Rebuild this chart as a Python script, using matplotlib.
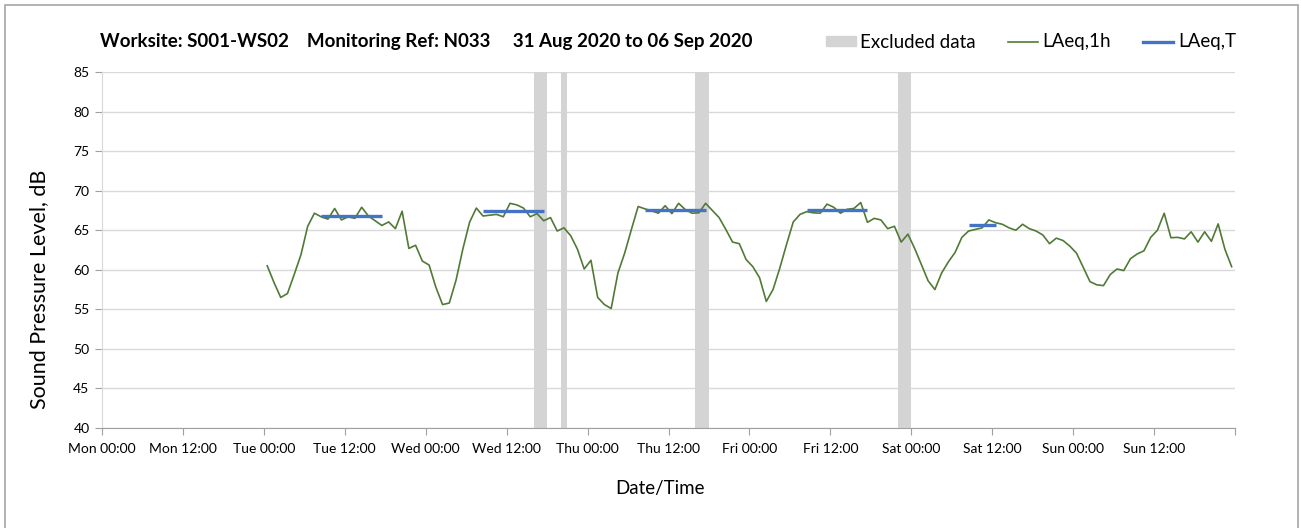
import matplotlib.pyplot as plt
import matplotlib.dates as mdates
import matplotlib.patches as mpatches
from matplotlib.lines import Line2D
import pandas as pd

plt.rcParams['font.family'] = ['Lato', 'DejaVu Sans']

# hourly LAeq,1h values, Tue 01 Sep 00:30 .. Sun 06 Sep 23:30
laeq_1h = [
    # Tue
    60.5, 58.4, 56.5, 57.0, 59.4, 61.9, 65.5, 67.15, 66.7, 66.4, 67.75, 66.3,
    66.7, 66.5, 67.9, 66.8, 66.2, 65.6, 66.05, 65.2, 67.4, 62.7, 63.1, 61.1,
    # Wed
    60.6, 57.8, 55.6, 55.8, 58.7, 62.6, 66.0, 67.8, 66.8, 66.9, 67.0, 66.7,
    68.4, 68.2, 67.8, 66.7, 67.1, 66.2, 66.6, 64.9, 65.3, 64.3, 62.6, 60.1,
    # Thu
    61.2, 56.5, 55.6, 55.1, 59.6, 62.1, 65.1, 68.0, 67.7, 67.45, 67.15, 68.1,
    67.1, 68.4, 67.6, 67.15, 67.2, 68.4, 67.5, 66.6, 65.1, 63.5, 63.3, 61.3,
    # Fri
    60.4, 59.0, 56.0, 57.5, 60.2, 63.2, 66.05, 67.0, 67.35, 67.2, 67.15, 68.3,
    67.9, 67.15, 67.65, 67.75, 68.5, 66.0, 66.5, 66.3, 65.2, 65.5, 63.5, 64.5,
    # Sat
    62.7, 60.65, 58.6, 57.5, 59.6, 61.0, 62.2, 64.1, 64.9, 65.1, 65.3, 66.3,
    65.95, 65.75, 65.3, 65.0, 65.75, 65.2, 64.9, 64.4, 63.3, 64.0, 63.7, 63.0,
    # Sun
    62.1, 60.3, 58.5, 58.1, 58.0, 59.4, 60.1, 59.9, 61.4, 62.0, 62.4, 64.1,
    65.0, 67.15, 64.05, 64.1, 63.9, 64.8, 63.5, 64.8, 63.6, 65.8, 62.6, 60.4,
]
times = pd.date_range('2020-09-01 00:30', periods=len(laeq_1h), freq='h')

# LAeq,T working period averages
laeq_t_start = ['2020-09-01 08:30', '2020-09-02 08:30', '2020-09-03 08:30',
                '2020-09-04 08:30', '2020-09-05 08:30']
laeq_t_end = ['2020-09-01 17:30', '2020-09-02 17:30', '2020-09-03 17:30',
              '2020-09-04 17:30', '2020-09-05 12:30']
laeq_t = [66.8, 67.4, 67.6, 67.6, 65.6]

# excluded periods
excl_start = ['2020-09-02 16:00', '2020-09-02 20:00', '2020-09-03 16:00', '2020-09-04 22:00']
excl_end = ['2020-09-02 18:00', '2020-09-02 21:00', '2020-09-03 18:00', '2020-09-05 00:00']

green = '#507a35'
blue = '#4472c4'
grey_band = '#d4d4d4'

fig = plt.figure(figsize=(13.01, 5.28), dpi=100)
ax = fig.add_axes([102 / 1301, 1 - 428 / 528, (1235 - 102) / 1301, (428 - 72) / 528])

for s, e in zip(excl_start, excl_end):
    ax.axvspan(pd.Timestamp(s), pd.Timestamp(e), color=grey_band, lw=0, zorder=1)

ax.plot(times, laeq_1h, color=green, lw=1.2, zorder=3)
for s, e, v in zip(laeq_t_start, laeq_t_end, laeq_t):
    ax.plot([pd.Timestamp(s), pd.Timestamp(e)], [v, v], color=blue, lw=2.4,
            solid_capstyle='butt', zorder=4)

ax.set_xlim(pd.Timestamp('2020-08-31 00:00'), pd.Timestamp('2020-09-07 00:00'))
ax.set_ylim(40, 85)
ax.set_yticks(range(40, 86, 5))

ax.xaxis.set_major_locator(mdates.HourLocator(byhour=[0, 12]))
ax.xaxis.set_major_formatter(mdates.DateFormatter('%a %H:%M'))
ax.xaxis.set_minor_locator(mdates.DayLocator())

ax.grid(axis='y', color='#d9d9d9', lw=1)
ax.grid(axis='x', which='minor', color='#d9d9d9', lw=1)
ax.tick_params(axis='x', which='minor', length=0)
ax.tick_params(axis='x', which='major', length=5, color='#a0a0a0', labelsize=10, pad=6)
ax.tick_params(axis='y', length=5, color='#a0a0a0', labelsize=10, pad=4)
ax.set_axisbelow(True)

for sp in ['top', 'right']:
    ax.spines[sp].set_visible(False)
ax.spines['left'].set_color('#d9d9d9')
ax.spines['bottom'].set_color('#a0a0a0')

fig.canvas.draw()
xt = ax.get_xticklabels()
xt[-1].set_visible(False)

ax.set_ylabel('Sound Pressure Level, dB', fontsize=15.5)
ax.yaxis.set_label_coords(-0.047, 0.39)
ax.set_xlabel('Date/Time', fontsize=13.5)
ax.xaxis.set_label_coords(0.4925, -0.145)

fig.text(100 / 1301, 1 - 42 / 528,
         'Worksite: S001-WS02    Monitoring Ref: N033     31 Aug 2020 to 06 Sep 2020',
         fontsize=13.5, fontweight='bold', va='center', ha='left')

handles = [mpatches.Patch(color=grey_band, label='Excluded data'),
           Line2D([], [], color=green, lw=1.2, label='LAeq,1h'),
           Line2D([], [], color=blue, lw=2.4, label='LAeq,T')]
fig.legend(handles=handles, loc='center right', bbox_to_anchor=(1249 / 1301, 1 - 42 / 528),
           ncol=3, frameon=False, fontsize=13.5, handlelength=1.6, handleheight=0.5,
           handletextpad=0.25, columnspacing=1.7, borderpad=0.2)

fig.patches.append(mpatches.Rectangle((5 / 1301, -0.05), (1298 - 5) / 1301, 1.05 - 5 / 528,
                                      transform=fig.transFigure, fill=False,
                                      edgecolor='#a6a6a6', lw=1.2))

fig.savefig('out.png', dpi=100)
